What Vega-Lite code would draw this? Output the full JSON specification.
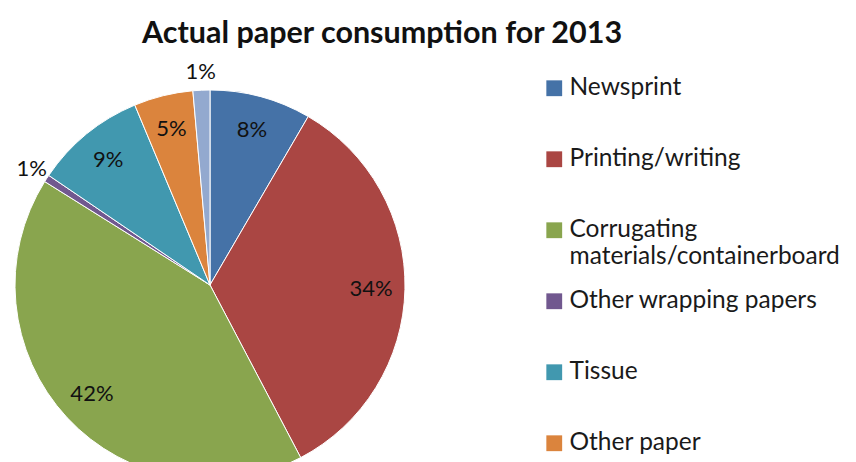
{
  "$schema": "https://vega.github.io/schema/vega-lite/v6.json",
  "autosize": {"type": "none"},
  "width": 420,
  "height": 354,
  "padding": {"left": 0, "top": 108, "right": 436, "bottom": 0},
  "background": "white",
  "title": {
    "text": "Actual paper consumption for 2013",
    "anchor": "middle",
    "frame": "group",
    "dx": 172,
    "offset": 12,
    "font": "Lato",
    "fontSize": 30.5,
    "fontWeight": "bold",
    "color": "#111111"
  },
  "data": {
    "values": [
      {"category": "Newsprint", "share": 0.084, "idx": 1},
      {"category": "Printing/writing", "share": 0.339, "idx": 2},
      {"category": "Corrugating materials/containerboard", "share": 0.416, "idx": 3},
      {"category": "Other wrapping papers", "share": 0.006, "idx": 4},
      {"category": "Tissue", "share": 0.092, "idx": 5},
      {"category": "Other paper", "share": 0.049, "idx": 6},
      {"category": "Other paperboard", "share": 0.014, "idx": 7}
    ]
  },
  "encoding": {
    "theta": {"field": "share", "type": "quantitative", "stack": true},
    "order": {"field": "idx", "type": "quantitative"}
  },
  "layer": [
    {
      "mark": {"type": "arc", "radius": 195, "stroke": "white", "strokeWidth": 1},
      "encoding": {
        "color": {
          "field": "category",
          "type": "nominal",
          "scale": {
            "domain": ["Newsprint", "Printing/writing", "Corrugating materials/containerboard", "Other wrapping papers", "Tissue", "Other paper", "Other paperboard"],
            "range": ["#4572A7", "#AA4643", "#89A54E", "#71588F", "#4198AF", "#DB843D", "#93A9CF"]
          },
          "legend": {
            "title": null,
            "orient": "none",
            "legendX": 542,
            "legendY": -32,
            "symbolType": "square",
            "symbolSize": 250,
            "symbolStrokeWidth": 0,
            "labelFont": "Lato",
            "labelFontSize": 24.5,
            "labelColor": "#1a1a1a",
            "labelOffset": 3,
            "labelLimit": 400,
            "rowPadding": 19,
            "gridAlign": "all",
            "labelExpr": "datum.label == 'Corrugating materials/containerboard' ? ['Corrugating', 'materials/containerboard'] : datum.label"
          }
        }
      }
    },
    {
      "mark": {"type": "text", "radius": 161, "font": "Lato", "fontSize": 22, "color": "#111111"},
      "encoding": {
        "detail": {"field": "category", "type": "nominal"},
        "text": {"condition": {"test": "datum.share >= 0.03", "field": "share", "type": "quantitative", "format": ".0%"}, "value": ""}
      }
    },
    {
      "mark": {"type": "text", "radius": 213, "font": "Lato", "fontSize": 22, "color": "#111111"},
      "encoding": {
        "detail": {"field": "category", "type": "nominal"},
        "text": {"condition": {"test": "datum.share < 0.03", "field": "share", "type": "quantitative", "format": ".0%"}, "value": ""}
      }
    }
  ]
}
